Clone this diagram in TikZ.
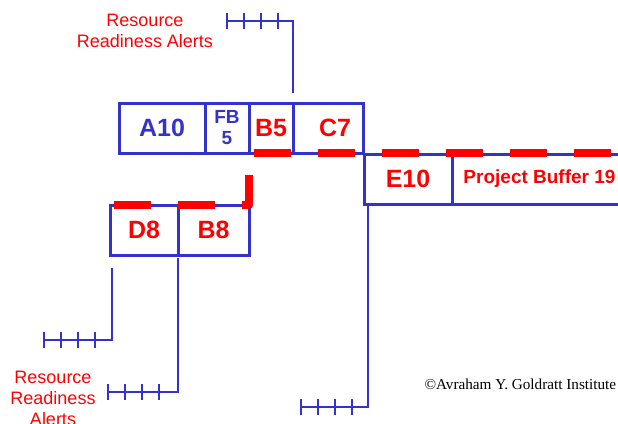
\documentclass[tikz,border=0pt]{standalone}
\usepackage{fontspec}
\setmainfont{Liberation Sans}
\newfontfamily\timesfont{Liberation Serif}
\usetikzlibrary{calc,positioning}
\definecolor{ChainBlue}{RGB}{51,51,204}
\definecolor{AlertRed}{RGB}{255,0,0}

\begin{document}
\begin{tikzpicture}[x=1pt, y=-1pt,
    task/.style={draw=ChainBlue, line width=3pt, outer sep=0pt, inner sep=0pt,
        minimum height=50pt, align=center, font=\fontsize{25}{28}\selectfont\bfseries},
    bluetask/.style={task, text=ChainBlue},
    redtask/.style={task, text=AlertRed},
    feed/.style={draw=ChainBlue, line width=1.5pt},
    critical/.style={draw=AlertRed, line width=8pt, line join=round,
        dash pattern=on 37pt off 27pt},
    alert/.style={text=AlertRed, align=center, font=\fontsize{18}{21}\selectfont}]
\clip (0,0) rectangle (618,423);

% kette oben
\node[bluetask, minimum width=86pt] (a10) at (162,128) {A10};
\node[bluetask, minimum width=44pt, font=\fontsize{19}{21}\selectfont\bfseries,
    right=0pt of a10] (fb5) {FB\\5};
\node[redtask, minimum width=44pt, right=0pt of fb5] (b5) {B5};
\node[redtask, minimum width=70pt, right=0pt of b5] (c7) {\hspace*{14pt}C7};
\node[redtask, minimum width=88pt, below right=1pt and 1pt of c7.south east] (e10) {E10};
\node[redtask, minimum width=175pt, font=\fontsize{19}{21}\selectfont\bfseries,
    right=0pt of e10] (pbuf) {Project Buffer 19};

% zubringer
\node[redtask, minimum width=68pt] (d8) at (144,230) {D8};
\node[redtask, minimum width=71pt, right=0pt of d8] (b8) {B8};

% kritische kette
\draw[critical] ([xshift=4pt]d8.north west) -- (b8.north east)
    -- (b5.south west) -- (b5.south west -| pbuf.east);

% ressourcen-zeitachsen
\coordinate (rr1) at (227,21);
\coordinate (rr2) at (44,340);
\coordinate (rr3) at (108,392);
\coordinate (rr4) at (301,407);
\draw[feed] (rr1) -| ([yshift=10pt]c7.north west);
\draw[feed] (rr2) -| ([xshift=2pt, yshift=-13pt]d8.south west);
\draw[feed] (rr3) -| ([yshift=-3pt]b8.south west);
\draw[feed] (rr4) -| ([xshift=4pt]e10.south west);
\foreach \r in {rr1,rr2,rr3,rr4}
    \foreach \k in {0,...,3}
        \draw[feed] ($(\r)+(17*\k,-8)$) -- ++(0,16);

\node[alert] (alerttop) at (145,31) {Resource\\Readiness Alerts};
\node[alert] (alertbottom) at (53,398) {Resource\\Readiness\\Alerts};
\node[anchor=base west, font=\timesfont\fontsize{15.2}{17}\selectfont] (credit)
    at (421,389) {©Avraham Y. Goldratt Institute};
\end{tikzpicture}
\end{document}
